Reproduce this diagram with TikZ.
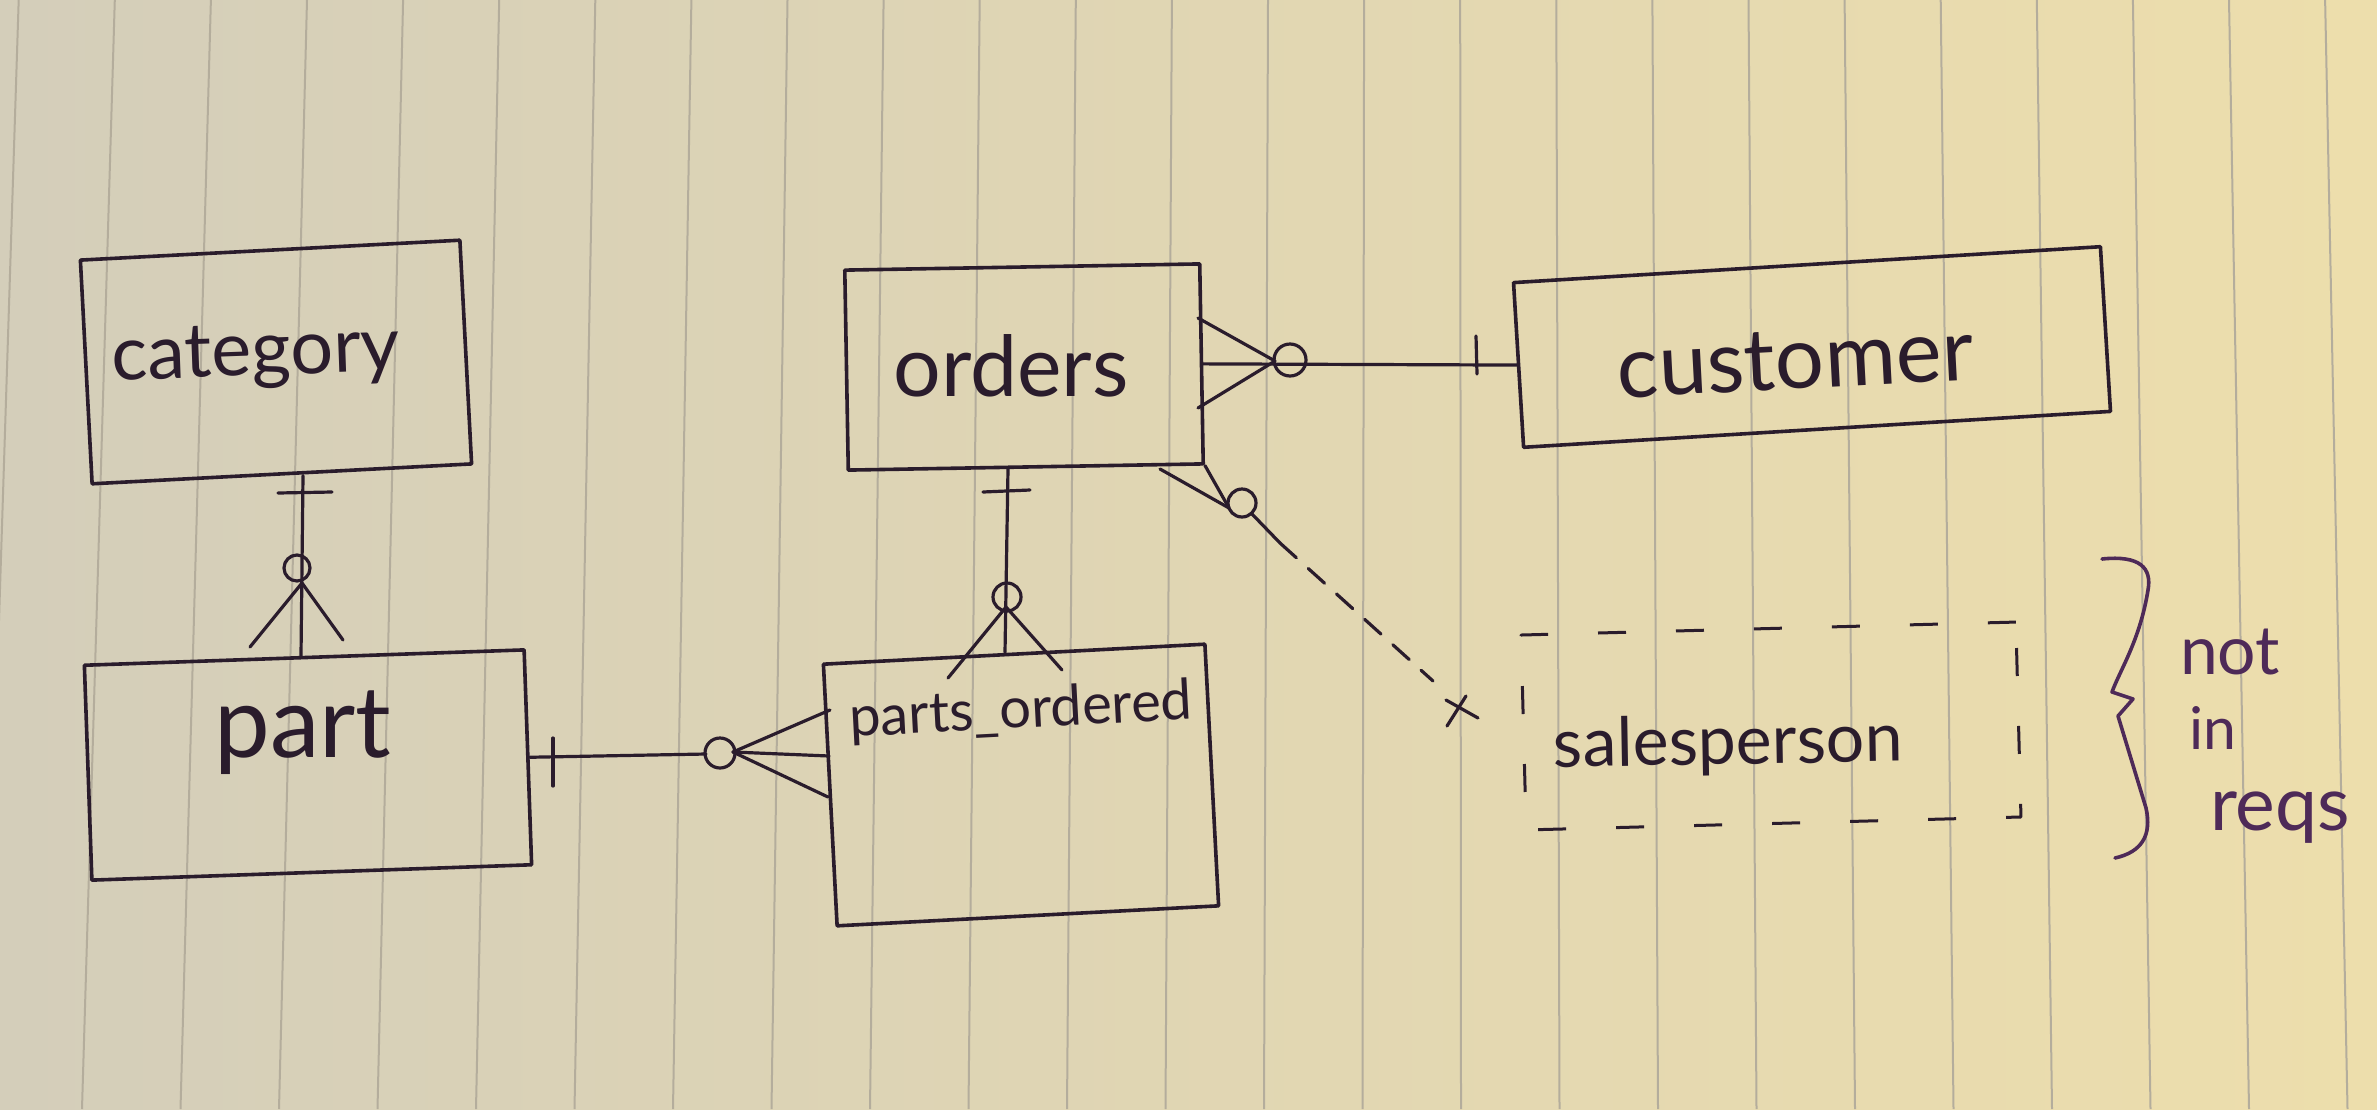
\documentclass[tikz,border=0pt]{standalone}
\usepackage{fontspec}
\setmainfont{Lato}
\usetikzlibrary{calc}
\definecolor{paperL}{RGB}{212,206,186}
\definecolor{paperR}{RGB}{237,222,172}
\definecolor{ruleC}{RGB}{180,173,156}
\definecolor{ink}{RGB}{42,28,44}
\definecolor{inkP}{RGB}{78,42,88}
\newcommand{\handtext}[2]{\resizebox{#1pt}{!}{#2}}
\tikzset{
  ent/.style={draw=ink, line width=3.6pt, inner sep=0pt, line join=round},
  hand/.style={text=ink, inner sep=0pt},
  note/.style={text=inkP, inner sep=0pt},
  conn/.style={draw=ink, line width=3.2pt, line cap=round, line join=round},
  ruleline/.style={draw=ruleC, line width=2pt},
}
\begin{document}
\begin{tikzpicture}[x=1pt,y=-1pt]
\useasboundingbox (0,0) rectangle (2377,1109);
\shade[left color=paperL, right color=paperR] (0,0) rectangle (2377,1109);
\foreach \k in {-3,...,21}{
  \pgfmathsetmacro\xm{293+97.3*\k}
  \pgfmathsetmacro\dx{-28+2.4*\k}
  \draw[ruleline] ({\xm-\dx/2},0) -- ({\xm+\dx/2},1109);
}

% entities
\node[ent, minimum width=380pt, minimum height=224pt, rotate=3] (category) at (276,362) {};
\node[hand, rotate=2] (categoryT) at (256,357) {\handtext{288}{category}};

\node[ent, minimum width=355pt, minimum height=200pt, rotate=1] (orders) at (1024,367) {};
\node[hand] (ordersT) at (1011,366) {\handtext{235}{orders}};

\node[ent, minimum width=588pt, minimum height=165pt, rotate=3.5] (customer) at (1812,347) {};
\node[hand, rotate=3] (customerT) at (1795,360) {\handtext{356}{customer}};

\node[ent, minimum width=440pt, minimum height=215pt, rotate=2] (part) at (308,765) {};
\node[hand] (partT) at (303,733) {\handtext{177}{part}};

\node[ent, minimum width=382pt, minimum height=262pt, rotate=3] (parts) at (1021,785) {};
\node[hand, rotate=3] (partsT) at (1021,712) {\handtext{343}{parts\_ordered}};

\node[ent, line width=3pt, dash pattern=on 28pt off 50pt, minimum width=495pt, minimum height=195pt, rotate=1.5] (salesperson) at (1771,726) {};
\node[hand, rotate=1] (salespersonT) at (1728,745) {\handtext{349}{salesperson}};

% category -- part
\draw[conn] (303,0 |- category.south) -- (301,0 |- part.north);
\draw[conn] (278,493) -- (332,492);
\coordinate (cp) at (297,568);
\draw[conn] (cp) circle[radius=13pt];
\draw[conn] (250,647) -- (302,583) -- (343,640);

% orders -- parts_ordered
\draw[conn] (1008,0 |- orders.south) -- (1005,0 |- parts.north);
\draw[conn] (983,492) -- (1030,490);
\coordinate (op) at (1007,597);
\draw[conn] (op) circle[radius=14pt];
\draw[conn] (948,678) -- (1006,607) -- (1062,670);

% part -- parts_ordered
\coordinate (pp) at (720,753);
\draw[conn] (part.east) -- (706,754);
\draw[conn] (553,738) -- (553,786);
\draw[conn] (pp) circle[radius=15pt];
\draw[conn] (830,710) -- (733,752) -- (828,797);
\draw[conn] (733,752) -- (829,756);

% orders -- customer
\coordinate (oc) at (1290,360);
\draw[conn] (orders.east) -- (customer.west);
\draw[conn] (oc) circle[radius=16pt];
\draw[conn] (1198,318) -- (1275,361) -- (1198,408);
\draw[conn] (1476,336) -- (1477,374);

% orders -- salesperson (optional)
\coordinate (os) at (1242,503);
\draw[conn] (orders.south east) -- (1229,508);
\draw[conn] (1160,469) -- (1229,508);
\draw[conn] (os) circle[radius=14pt];
\draw[conn] (1252,514) -- (1280,543);
\draw[conn, dash pattern=on 22pt off 16pt] (1280,543) -- (1433,681);
\draw[conn] (1446,700) -- (1478,718);
\draw[conn] (1447,726) -- (1466,696);

% brace and note
\draw[conn, draw=inkP, line width=3.6pt] (2102,559) .. controls (2140,555) and (2152,568) .. (2148,590)
  .. controls (2140,640) and (2120,670) .. (2112,692) -- (2133,699) -- (2118,716)
  -- (2146,808) .. controls (2152,835) and (2142,852) .. (2115,858);
\node[note] (nnot) at (2230,652) {\handtext{100}{not}};
\node[note] (nin) at (2213,728) {\handtext{47}{in}};
\node[note] (nreqs) at (2280,818) {\handtext{140}{reqs}};
\end{tikzpicture}
\end{document}
